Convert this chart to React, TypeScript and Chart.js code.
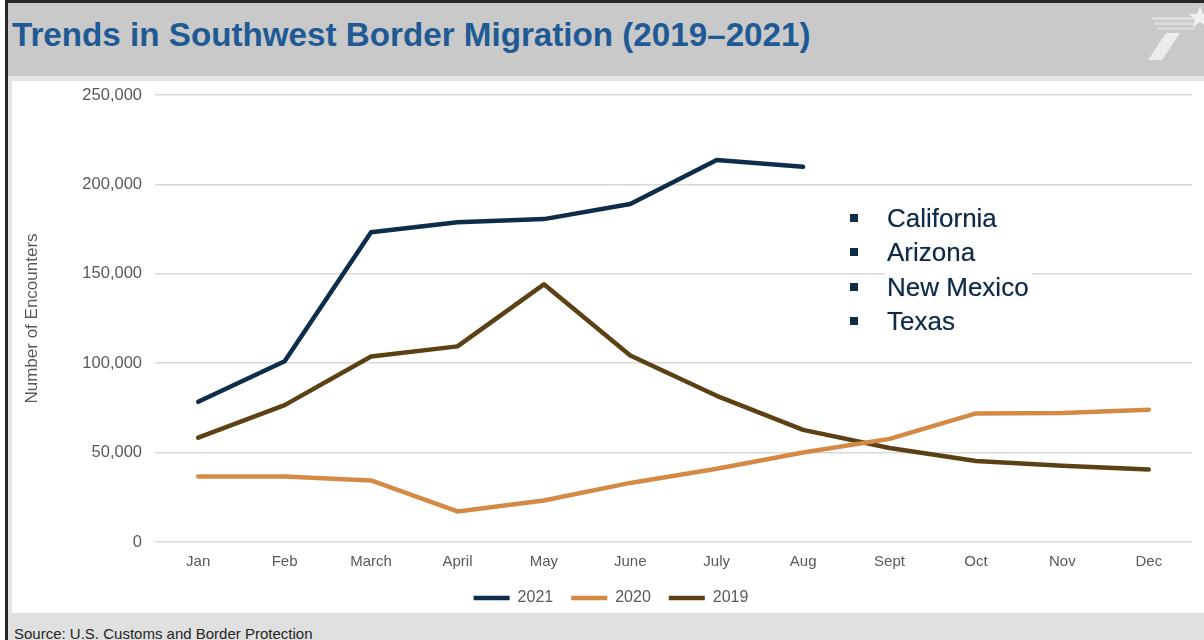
import React, { useEffect, useRef } from "react";
import { Chart, registerables } from "chart.js";

Chart.register(...registerables);

const months = ["Jan", "Feb", "March", "April", "May", "June", "July", "Aug", "Sept", "Oct", "Nov", "Dec"];
const series2021 = [78414, 101099, 173277, 178795, 180597, 189034, 213593, 209840];
const series2020 = [36585, 36687, 34460, 17106, 23237, 33049, 40929, 50014, 57674, 71929, 72113, 73994];
const series2019 = [58317, 76545, 103731, 109415, 144116, 104311, 81777, 62707, 52546, 45250, 42643, 40565];
const seriesNames = ["2021", "2020", "2019"];
const states = ["California", "Arizona", "New Mexico", "Texas"];

const C2021 = "#0e2d4a";
const C2020 = "#d48a45";
const C2019 = "#5c4114";
const TICK = "#595959";
const FONT = "'Liberation Sans', Arial, sans-serif";

const legendShift = {
  id: "legendShift",
  afterLayout(chart: any) {
    const lg = chart.legend;
    if (lg) {
      lg.left += 9;
      lg.right += 9;
    }
  },
};

export default function App() {
  const canvasRef = useRef<HTMLCanvasElement | null>(null);

  useEffect(() => {
    document.body.style.margin = "0";
    const canvas = canvasRef.current;
    if (!canvas) return;
    const mk = (label: string, data: number[], color: string) => ({
      label,
      data,
      borderColor: color,
      backgroundColor: color,
      borderWidth: 4.5,
      borderCapStyle: "round" as const,
      borderJoinStyle: "round" as const,
      pointRadius: 0,
      pointHoverRadius: 0,
      tension: 0,
      fill: false,
      pointStyle: "line" as const,
    });
    const chart = new Chart(canvas, {
      type: "line",
      data: {
        labels: months,
        datasets: [
          mk(seriesNames[0], series2021, C2021),
          mk(seriesNames[1], series2020, C2020),
          mk(seriesNames[2], series2019, C2019),
        ],
      },
      plugins: [legendShift],
      options: {
        animation: false,
        responsive: false,
        maintainAspectRatio: false,
        layout: { padding: { top: 14, right: 12, bottom: 0, left: 0 } },
        plugins: {
          tooltip: { enabled: false },
          legend: {
            position: "bottom",
            labels: {
              usePointStyle: true,
              pointStyle: "line",
              pointStyleWidth: 36,
              padding: 18,
              color: TICK,
              font: { family: FONT, size: 16 },
            },
          },
        },
        scales: {
          x: {
            offset: true,
            grid: { display: false, drawTicks: false },
            border: { display: false },
            ticks: { color: TICK, font: { family: FONT, size: 15 }, padding: 11, maxRotation: 0, autoSkip: false },
            afterFit: (scale: any) => {
              scale.height = 30;
              scale.paddingLeft = 0;
              scale.paddingRight = 0;
            },
          },
          y: {
            min: 0,
            max: 250000,
            grid: { color: "#d9d9d9", lineWidth: 1.5, drawTicks: false },
            border: { display: false },
            ticks: {
              stepSize: 50000,
              color: TICK,
              padding: 13,
              font: { family: FONT, size: 16.5 },
              callback: (v: any) => Number(v).toLocaleString("en-US"),
            },
            title: {
              display: true,
              text: "Number of Encounters",
              color: TICK,
              font: { family: FONT, size: 17 },
              padding: { top: 10, bottom: 0 },
            },
            afterFit: (scale: any) => {
              scale.width = 143;
              scale.paddingTop = 0;
              scale.paddingBottom = 0;
            },
          },
        },
      },
    });
    return () => chart.destroy();
  }, []);

  return (
    <div style={{ position: "relative", width: 1204, height: 640, overflow: "hidden", background: "#ffffff", fontFamily: FONT }}>
      {/* borders */}
      <div style={{ position: "absolute", left: 5, top: 0, width: 1199, height: 3, background: "#262626" }} />
      <div style={{ position: "absolute", left: 5, top: 0, width: 3, height: 640, background: "#262626" }} />
      {/* header */}
      <div style={{ position: "absolute", left: 8, top: 3, width: 1196, height: 73, background: "#c8c9c8" }} />
      <div style={{ position: "absolute", left: 8, top: 76, width: 1196, height: 5, background: "#e4e4e4" }} />
      <div style={{ position: "absolute", left: 8, top: 76, width: 4, height: 564, background: "#e4e4e4" }} />
      <div
        style={{
          position: "absolute",
          left: 12,
          top: 15,
          fontSize: 33.2,
          fontWeight: 700,
          color: "#1f5a94",
          whiteSpace: "nowrap",
          lineHeight: "40px",
        }}
      >
        Trends in Southwest Border Migration (2019–2021)
      </div>
      <svg style={{ position: "absolute", left: 1130, top: 3 }} width={74} height={73}>
        <polygon points="18,57 32,57 50,30 36,30" fill="#ececec" />
        <rect x={22} y={14} width={44} height={3} fill="#e2e2e2" opacity={0.8} />
        <rect x={24} y={19} width={42} height={3} fill="#e2e2e2" opacity={0.7} />
        <rect x={27} y={24} width={38} height={3} fill="#e2e2e2" opacity={0.6} />
        <polygon points="70,3 73,11 81,11 75,16 77,24 70,19 63,24 65,16 59,11 67,11" fill="#f2f2f2" />
      </svg>
      {/* footer */}
      <div style={{ position: "absolute", left: 8, top: 613, width: 1196, height: 27, background: "#e0e0e0" }} />
      <div style={{ position: "absolute", left: 14, top: 625, fontSize: 15, color: "#262626", whiteSpace: "nowrap", lineHeight: "18px" }}>
        Source: U.S. Customs and Border Protection
      </div>
      {/* chart */}
      <canvas ref={canvasRef} width={1192} height={535} style={{ position: "absolute", left: 12, top: 81, width: 1192, height: 535 }} />
      {/* state list */}
      <div style={{ position: "absolute", left: 885, top: 201, width: 147, height: 137, background: "#ffffff" }} />
      {states.map((s, i) => (
        <React.Fragment key={s}>
          <div style={{ position: "absolute", left: 850, top: 214 + i * 34.3, width: 8, height: 8, background: C2021 }} />
          <div
            style={{
              position: "absolute",
              left: 887,
              top: 202 + i * 34.3,
              fontSize: 26,
              lineHeight: "32px",
              color: "#0e2a45",
              whiteSpace: "nowrap",
              textShadow: "0 0 1px rgba(14,42,69,0.5)",
            }}
          >
            {s}
          </div>
        </React.Fragment>
      ))}
    </div>
  );
}
